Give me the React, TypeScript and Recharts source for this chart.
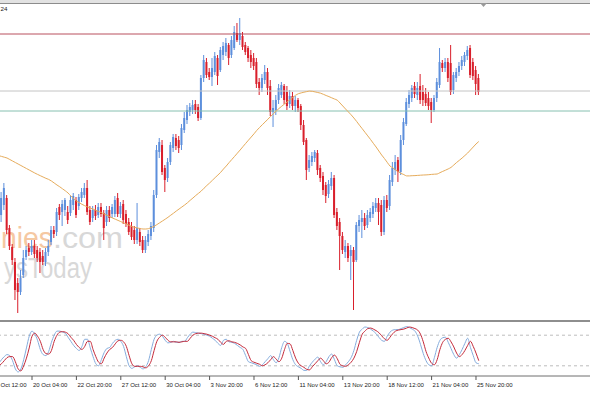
import React from 'react';
import { ComposedChart, LineChart, Bar, Line, XAxis, YAxis, ReferenceLine } from 'recharts';

// H4 candles, one entry per bar (oldest first)
const opens = [
  1.1768, 1.1785, 1.1795, 1.1802, 1.1772, 1.1753, 1.1738, 1.1717, 1.1708, 1.1725,
  1.1743, 1.1752, 1.1748, 1.1754, 1.1750, 1.1748, 1.1744, 1.1738, 1.1748, 1.1758,
  1.1770, 1.1768, 1.1793, 1.1788, 1.1790, 1.1788, 1.1787, 1.1795, 1.1800, 1.1794,
  1.1802, 1.1805, 1.1812, 1.1790, 1.1782, 1.1790, 1.1785, 1.1793, 1.1787, 1.1778,
  1.1790, 1.1786, 1.1786, 1.1802, 1.1786, 1.1796, 1.1786, 1.1778, 1.1774, 1.1770,
  1.1760, 1.1768, 1.1760, 1.1750, 1.1758, 1.1764, 1.1772, 1.1805, 1.1848, 1.1855,
  1.1832, 1.1822, 1.1838, 1.1852, 1.1862, 1.1860, 1.1855, 1.1870, 1.1880, 1.1888,
  1.1890, 1.1896, 1.1893, 1.1882, 1.1922, 1.1938, 1.1928, 1.1923, 1.1928, 1.1942,
  1.1930, 1.1945, 1.1948, 1.1955, 1.1945, 1.1952, 1.1967, 1.1960, 1.1964, 1.1955,
  1.1952, 1.1945, 1.1942, 1.1938, 1.1918, 1.1912, 1.1920, 1.1928, 1.1914, 1.1888,
  1.1890, 1.1900, 1.1905, 1.1914, 1.1908, 1.1896, 1.1904, 1.1894, 1.1900, 1.1894,
  1.1875, 1.1860, 1.1832, 1.1838, 1.1842, 1.1847, 1.1832, 1.1824, 1.1815, 1.1806,
  1.1814, 1.1822, 1.1788, 1.1778, 1.1764, 1.1748, 1.1754, 1.1744, 1.1750, 1.1740,
  1.1774, 1.1778, 1.1782, 1.1775, 1.1782, 1.1786, 1.1792, 1.1797, 1.1795, 1.1768,
  1.1800, 1.1794, 1.1818, 1.1830, 1.1840, 1.1828, 1.1860, 1.1876, 1.1896, 1.1902,
  1.1914, 1.1905, 1.1914, 1.1908, 1.1906, 1.1902, 1.1898, 1.1890, 1.1902, 1.1915,
  1.1937, 1.1932, 1.1938, 1.1937, 1.1910, 1.1922, 1.1928, 1.1934, 1.1938, 1.1944,
  1.1952, 1.1938, 1.1930, 1.1922,
];
const highs = [
  1.1805, 1.1808, 1.1817, 1.1805, 1.1775, 1.1756, 1.1742, 1.1722, 1.1730, 1.1750,
  1.1754, 1.1757, 1.1760, 1.1760, 1.1754, 1.1752, 1.1750, 1.1752, 1.1760, 1.1774,
  1.1774, 1.1792, 1.1796, 1.1800, 1.1802, 1.1794, 1.1804, 1.1807, 1.1803, 1.1806,
  1.1812, 1.1817, 1.1820, 1.1794, 1.1794, 1.1795, 1.1797, 1.1797, 1.1790, 1.1794,
  1.1794, 1.1796, 1.1804, 1.1807, 1.1798, 1.1800, 1.1790, 1.1782, 1.1778, 1.1774,
  1.1797, 1.1772, 1.1764, 1.1764, 1.1770, 1.1778, 1.1810, 1.1855, 1.1862, 1.1860,
  1.1835, 1.1842, 1.1858, 1.1866, 1.1866, 1.1864, 1.1876, 1.1888, 1.1895, 1.1897,
  1.1900, 1.1900, 1.1896, 1.1925, 1.1945, 1.1942, 1.1932, 1.1942, 1.1948, 1.1945,
  1.1953, 1.1958, 1.1962, 1.1957, 1.1964, 1.1974, 1.1977, 1.1982, 1.1968, 1.1958,
  1.1954, 1.1950, 1.1947, 1.1942, 1.1922, 1.1926, 1.1935, 1.1932, 1.1920, 1.1900,
  1.1905, 1.1916, 1.1918, 1.1916, 1.1914, 1.1910, 1.1908, 1.1904, 1.1902, 1.1896,
  1.1880, 1.1862, 1.1845, 1.1848, 1.1850, 1.1850, 1.1835, 1.1828, 1.1818, 1.1820,
  1.1828, 1.1825, 1.1792, 1.1782, 1.1768, 1.1760, 1.1757, 1.1755, 1.1753, 1.1778,
  1.1785, 1.1790, 1.1787, 1.1790, 1.1792, 1.1798, 1.1802, 1.1802, 1.1800, 1.1804,
  1.1805, 1.1825, 1.1838, 1.1845, 1.1843, 1.1865, 1.1882, 1.1902, 1.1910, 1.1915,
  1.1918, 1.1918, 1.1926, 1.1915, 1.1912, 1.1908, 1.1902, 1.1905, 1.1922, 1.1952,
  1.1940, 1.1942, 1.1942, 1.1955, 1.1928, 1.1932, 1.1938, 1.1944, 1.1948, 1.1954,
  1.1955, 1.1942, 1.1934, 1.1926,
];
const lows = [
  1.1764, 1.1778, 1.1790, 1.1766, 1.1750, 1.1735, 1.1700, 1.1687, 1.1705, 1.1722,
  1.1740, 1.1744, 1.1745, 1.1742, 1.1738, 1.1727, 1.1735, 1.1734, 1.1744, 1.1755,
  1.1762, 1.1764, 1.1780, 1.1774, 1.1784, 1.1776, 1.1784, 1.1790, 1.1782, 1.1790,
  1.1798, 1.1802, 1.1785, 1.1775, 1.1778, 1.1780, 1.1782, 1.1783, 1.1760, 1.1774,
  1.1778, 1.1782, 1.1783, 1.1783, 1.1782, 1.1776, 1.1773, 1.1765, 1.1760, 1.1756,
  1.1756, 1.1754, 1.1747, 1.1747, 1.1754, 1.1760, 1.1768, 1.1802, 1.1842, 1.1825,
  1.1808, 1.1818, 1.1835, 1.1848, 1.1850, 1.1847, 1.1850, 1.1867, 1.1876, 1.1884,
  1.1886, 1.1886, 1.1879, 1.1880, 1.1918, 1.1922, 1.1920, 1.1914, 1.1925, 1.1915,
  1.1928, 1.1940, 1.1944, 1.1935, 1.1942, 1.1950, 1.1958, 1.1955, 1.1950, 1.1945,
  1.1938, 1.1932, 1.1930, 1.1912, 1.1905, 1.1908, 1.1916, 1.1905, 1.1884, 1.1873,
  1.1885, 1.1896, 1.1902, 1.1896, 1.1890, 1.1892, 1.1890, 1.1888, 1.1888, 1.1870,
  1.1855, 1.1820, 1.1828, 1.1834, 1.1838, 1.1825, 1.1818, 1.1805, 1.1797, 1.1802,
  1.1810, 1.1782, 1.1770, 1.1730, 1.1746, 1.1742, 1.1738, 1.1720, 1.1690, 1.1738,
  1.1768, 1.1762, 1.1770, 1.1772, 1.1778, 1.1782, 1.1788, 1.1775, 1.1764, 1.1765,
  1.1788, 1.1790, 1.1814, 1.1825, 1.1818, 1.1825, 1.1855, 1.1874, 1.1892, 1.1898,
  1.1902, 1.1900, 1.1896, 1.1894, 1.1894, 1.1890, 1.1877, 1.1888, 1.1898, 1.1912,
  1.1928, 1.1928, 1.1918, 1.1905, 1.1906, 1.1918, 1.1924, 1.1930, 1.1934, 1.1940,
  1.1922, 1.1920, 1.1905, 1.1905,
];
const closes = [
  1.1795, 1.1802, 1.1812, 1.1770, 1.1754, 1.1740, 1.1710, 1.1708, 1.1722, 1.1742,
  1.1750, 1.1748, 1.1754, 1.1746, 1.1742, 1.1738, 1.1738, 1.1748, 1.1754, 1.1770,
  1.1766, 1.1788, 1.1785, 1.1796, 1.1800, 1.1780, 1.1800, 1.1804, 1.1785, 1.1803,
  1.1808, 1.1812, 1.1788, 1.1778, 1.1790, 1.1784, 1.1793, 1.1786, 1.1772, 1.1790,
  1.1782, 1.1793, 1.1800, 1.1786, 1.1794, 1.1780, 1.1776, 1.1768, 1.1763, 1.1760,
  1.1772, 1.1758, 1.1750, 1.1760, 1.1766, 1.1774, 1.1805, 1.1850, 1.1858, 1.1828,
  1.1820, 1.1838, 1.1855, 1.1863, 1.1854, 1.1852, 1.1872, 1.1882, 1.1890, 1.1893,
  1.1895, 1.1890, 1.1882, 1.1922, 1.1940, 1.1925, 1.1923, 1.1932, 1.1944, 1.1924,
  1.1950, 1.1954, 1.1957, 1.1942, 1.1960, 1.1968, 1.1960, 1.1967, 1.1953, 1.1948,
  1.1942, 1.1938, 1.1934, 1.1916, 1.1912, 1.1922, 1.1928, 1.1912, 1.1888, 1.1892,
  1.1900, 1.1912, 1.1915, 1.1900, 1.1894, 1.1904, 1.1894, 1.1900, 1.1892, 1.1875,
  1.1858, 1.1830, 1.1840, 1.1844, 1.1848, 1.1830, 1.1822, 1.1810, 1.1804, 1.1816,
  1.1822, 1.1785, 1.1774, 1.1764, 1.1750, 1.1754, 1.1742, 1.1750, 1.1738, 1.1775,
  1.1780, 1.1782, 1.1774, 1.1785, 1.1788, 1.1794, 1.1797, 1.1788, 1.1768, 1.1800,
  1.1792, 1.1820, 1.1832, 1.1838, 1.1828, 1.1860, 1.1878, 1.1898, 1.1905, 1.1912,
  1.1906, 1.1912, 1.1900, 1.1900, 1.1897, 1.1894, 1.1890, 1.1902, 1.1918, 1.1938,
  1.1932, 1.1938, 1.1922, 1.1908, 1.1925, 1.1928, 1.1934, 1.1940, 1.1945, 1.1950,
  1.1925, 1.1924, 1.1916, 1.1908,
];
// moving average overlay
const maValues = [
  1.18444, 1.18436, 1.18428, 1.1842, 1.18405, 1.1839, 1.18375, 1.1836, 1.18345, 1.1833,
  1.18315, 1.183, 1.18285, 1.1827, 1.18256, 1.18243, 1.1823, 1.18217, 1.18206, 1.1819,
  1.1817, 1.1815, 1.18132, 1.18112, 1.18092, 1.1807, 1.1804, 1.18014, 1.1799, 1.17974,
  1.17957, 1.17943, 1.1793, 1.1792, 1.17909, 1.17897, 1.17885, 1.17874, 1.1786, 1.17847,
  1.17834, 1.1782, 1.17808, 1.17796, 1.17784, 1.17771, 1.1776, 1.17747, 1.17735, 1.17727,
  1.1772, 1.17715, 1.1771, 1.1771, 1.17714, 1.17724, 1.17737, 1.17754, 1.17772, 1.1779,
  1.17808, 1.17827, 1.17848, 1.17868, 1.1789, 1.1791, 1.1793, 1.1795, 1.17972, 1.17997,
  1.1802, 1.18045, 1.18067, 1.1809, 1.18118, 1.18145, 1.1817, 1.18197, 1.18224, 1.1825,
  1.18277, 1.1831, 1.1834, 1.18373, 1.18405, 1.18436, 1.18468, 1.185, 1.18533, 1.18566,
  1.18598, 1.1863, 1.18662, 1.18696, 1.18725, 1.18753, 1.1878, 1.18808, 1.18836, 1.18863,
  1.1889, 1.18915, 1.18938, 1.1896, 1.18982, 1.19004, 1.19026, 1.19048, 1.19063, 1.19071,
  1.19078, 1.19084, 1.19089, 1.19087, 1.19081, 1.19075, 1.19068, 1.19057, 1.19045, 1.19034,
  1.19022, 1.1901, 1.18998, 1.1897, 1.1894, 1.1891, 1.18881, 1.18852, 1.1882, 1.18785,
  1.18748, 1.18713, 1.18677, 1.18641, 1.18605, 1.18567, 1.1853, 1.1849, 1.1845, 1.18415,
  1.18377, 1.1834, 1.18322, 1.18302, 1.18283, 1.18266, 1.18254, 1.18241, 1.18241, 1.18243,
  1.18244, 1.18246, 1.18248, 1.1825, 1.18251, 1.18253, 1.18256, 1.18258, 1.1826, 1.18273,
  1.18286, 1.18298, 1.18311, 1.18326, 1.1835, 1.18375, 1.18397, 1.1842, 1.18445, 1.1847,
  1.185, 1.1853, 1.1856, 1.18585,
];
// stochastic oscillator (%K main, %D signal)
const stochK = [
  24, 32, 38, 42, 40, 30, 14, 8, 14, 32,
  55, 78, 88, 82, 70, 52, 42, 40, 48, 66,
  80, 88, 88, 86, 84, 76, 68, 60, 54, 50,
  58, 72, 72, 55, 38, 24, 20, 32, 46, 54,
  56, 64, 70, 72, 68, 58, 38, 20, 15, 18,
  20, 17, 14, 18, 30, 52, 72, 80, 82, 78,
  70, 65, 66, 68, 66, 66, 68, 68, 75, 82,
  86, 85, 84, 83, 82, 80, 78, 74, 70, 64,
  60, 70, 72, 67, 66, 64, 60, 56, 52, 40,
  28, 26, 24, 22, 19, 22, 28, 34, 40, 32,
  26, 36, 56, 68, 64, 48, 32, 22, 18, 15,
  11, 11, 20, 27, 33, 37, 28, 22, 28, 38,
  43, 32, 20, 18, 17, 22, 28, 36, 50, 70,
  86, 92, 96, 95, 92, 88, 83, 76, 70, 68,
  78, 86, 90, 91, 91, 93, 95, 97, 95, 92,
  88, 78, 62, 44, 30, 22, 20, 36, 56, 70,
  75, 76, 66, 54, 42, 35, 42, 52, 64, 74,
  56, 40, 26, 24,
];
const stochD = [
  20, 24, 30, 36, 38, 38, 28, 14, 10, 20,
  35, 55, 78, 84, 78, 68, 52, 44, 43, 50,
  68, 80, 86, 87, 86, 83, 76, 70, 62, 56,
  52, 58, 68, 68, 52, 38, 27, 24, 35, 45,
  52, 56, 63, 69, 70, 67, 58, 40, 24, 19,
  19, 19, 18, 16, 20, 30, 50, 68, 76, 80,
  76, 70, 67, 67, 67, 66, 67, 68, 68, 74,
  80, 83, 84, 84, 83, 82, 80, 78, 75, 72,
  66, 62, 68, 69, 67, 66, 64, 61, 57, 54,
  42, 30, 27, 25, 23, 20, 22, 26, 32, 38,
  33, 28, 35, 52, 64, 63, 50, 35, 25, 20,
  17, 13, 12, 18, 24, 30, 35, 30, 24, 27,
  36, 41, 34, 23, 20, 19, 22, 27, 35, 48,
  66, 82, 88, 93, 94, 92, 89, 85, 79, 73,
  70, 76, 83, 88, 90, 91, 92, 94, 96, 95,
  93, 90, 82, 67, 48, 35, 25, 22, 32, 52,
  66, 72, 74, 67, 57, 45, 38, 42, 50, 60,
  68, 58, 45, 30,
];
// time axis: bar index of each label and its text (first one is cut by the left edge)
const tickBars = [-4, 12, 28, 44, 60, 76, 92, 108, 124, 140, 156, 172];
const tickLabels = [
  'Oct 12:00', '20 Oct 04:00', '22 Oct 20:00', '27 Oct 12:00', '30 Oct 04:00', '3 Nov 20:00',
  '6 Nov 12:00', '11 Nov 04:00', '13 Nov 20:00', '18 Nov 12:00', '21 Nov 04:00', '25 Nov 20:00',
];
const resistanceLevel = 1.1966;
const pivotLevel = 1.1909;
const supportLevel = 1.1889;

const rows = opens.map((o, i) => ({
  bar: i,
  open: o,
  high: highs[i],
  low: lows[i],
  close: closes[i],
  range: [lows[i], highs[i]],
  ma: maValues[i],
  k: stochK[i],
  d: stochD[i],
}));

const X_DOMAIN: [number, number] = [-6.74, 220.29];
const UP = '#5d8fdc';
const DOWN = '#d91f2b';
const FONT = '"Liberation Sans", Arial, sans-serif';

const Candle = (props: any) => {
  const { x, y, width, height, payload } = props;
  if (!payload || height == null) return null;
  const { open, close, high, low } = payload;
  const cx = x + width / 2;
  const ratio = high > low ? height / (high - low) : 0;
  const yOf = (v: number) => y + (high - v) * ratio;
  const color = close >= open ? UP : DOWN;
  const top = yOf(Math.max(open, close));
  const bottom = yOf(Math.min(open, close));
  return (
    <g>
      <line x1={cx} x2={cx} y1={y} y2={y + height} stroke={color} strokeWidth={1} />
      <rect x={cx - 1} y={top} width={2} height={Math.max(1, bottom - top)} fill={color} />
    </g>
  );
};

const TimeTick = (props: any) => {
  const { x, y, payload } = props;
  const i = tickBars.indexOf(payload.value);
  // svg starts 20px left of the page; keep the cut first label inside the view
  const tx = Math.max(x + 1, 20.5);
  return (
    <text x={tx} y={y + 4.5} fontSize={6} fontFamily={FONT} fill="#222" textAnchor="start">
      {tickLabels[i]}
    </text>
  );
};

export default function App() {
  return (
    <div style={{ position: 'fixed', left: 0, top: 0, width: 590, height: 393, overflow: 'hidden', background: '#fff' }}>
      {/* window chrome + watermark */}
      <svg width={590} height={393} style={{ position: 'absolute', left: 0, top: 0 }}>
        <rect x={0} y={0} width={590} height={3} fill="#e2e2e2" />
        <rect x={0} y={3} width={590} height={1} fill="#8c8c8c" />
        <polygon points="480,3 487,3 483.5,7" fill="#9a9a9a" />
        <text x={0.5} y={11} fontSize={6.2} fontFamily={FONT} fill="#222">24</text>
        <text x={1} y={248} fontSize={30} fontFamily={FONT} fill="#f5c8a2" textLength={52} lengthAdjust="spacingAndGlyphs">nies</text>
        <text x={53} y={248} fontSize={30} fontFamily={FONT} fill="#d8d8d8" textLength={70} lengthAdjust="spacingAndGlyphs">.com</text>
        <text x={4} y={278} fontSize={30} fontFamily={FONT} fill="#d8d8d8" textLength={88} lengthAdjust="spacingAndGlyphs">ysToday</text>
        <rect x={0} y={320} width={590} height={2} fill="#8e8e8e" />
      </svg>

      {/* price window */}
      <div style={{ position: 'absolute', left: -20, top: 4 }}>
        <ComposedChart width={630} height={315} data={rows} margin={{ top: 0, right: 0, bottom: 0, left: 0 }}>
          <XAxis type="number" dataKey="bar" domain={X_DOMAIN} allowDataOverflow hide />
          <YAxis type="number" domain={[1.1681, 1.1996]} allowDataOverflow hide />
          <ReferenceLine y={resistanceLevel} stroke="#b9505f" strokeWidth={1} />
          <ReferenceLine y={pivotLevel} stroke="#c4c4c4" strokeWidth={1} />
          <ReferenceLine y={supportLevel} stroke="#86c0b0" strokeWidth={1} />
          <Line type="monotone" dataKey="ma" stroke="#e6ac5c" strokeWidth={1} dot={false} isAnimationActive={false} />
          <Bar dataKey="range" barSize={2} shape={Candle} isAnimationActive={false} />
        </ComposedChart>
      </div>

      {/* stochastic window */}
      <div style={{ position: 'absolute', left: -20, top: 325 }}>
        <LineChart width={630} height={68} data={rows} margin={{ top: 0, right: 0, bottom: 0, left: 0 }}>
          <XAxis
            type="number"
            dataKey="bar"
            domain={X_DOMAIN}
            allowDataOverflow
            ticks={tickBars}
            interval={0}
            height={17}
            tickSize={4}
            axisLine={{ stroke: '#6e6e6e' }}
            tickLine={{ stroke: '#555' }}
            tick={(p: any) => <TimeTick {...p} />}
          />
          <YAxis type="number" domain={[0, 100]} hide />
          <ReferenceLine y={80} stroke="#bdbdbd" strokeDasharray="3 3" />
          <ReferenceLine y={20} stroke="#bdbdbd" strokeDasharray="3 3" />
          <Line type="monotone" dataKey="k" stroke="#85acdc" strokeWidth={1} dot={false} isAnimationActive={false} />
          <Line type="monotone" dataKey="d" stroke="#c42a3a" strokeWidth={1} dot={false} isAnimationActive={false} />
        </LineChart>
      </div>
    </div>
  );
}
